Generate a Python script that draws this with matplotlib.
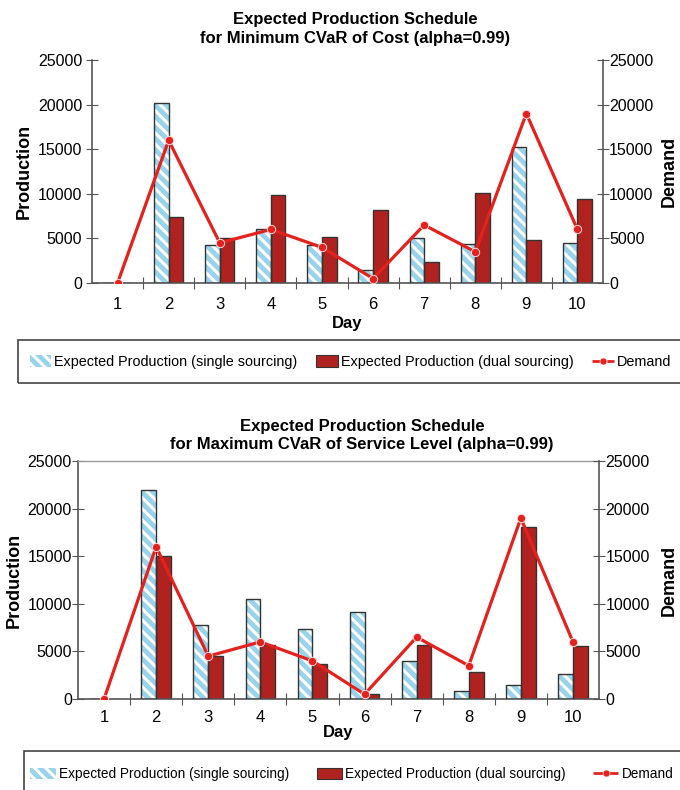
import matplotlib
matplotlib.use("Agg")
import matplotlib.pyplot as plt
import numpy as np
from matplotlib.patches import Rectangle, Patch
from matplotlib.lines import Line2D

plt.rcParams["font.family"] = ["Liberation Sans", "DejaVu Sans"]
plt.rcParams["hatch.linewidth"] = 2.2

days = [1, 2, 3, 4, 5, 6, 7, 8, 9, 10]

# Minimum CVaR of cost
cost_single = [0, 20200, 4300, 6100, 4300, 1500, 5100, 4400, 15200, 4500]
cost_dual   = [0, 7450, 5050, 9850, 5200, 8200, 2400, 10100, 4850, 9400]
cost_demand = [0, 16000, 4500, 6000, 4000, 500, 6500, 3500, 19000, 6000]

# Maximum CVaR of service level
serv_single = [0, 22000, 7800, 10550, 7350, 9150, 4000, 870, 1500, 2600]
serv_dual   = [0, 15000, 4500, 5700, 3700, 500, 5700, 2800, 18100, 5600]
serv_demand = [0, 16000, 4500, 6000, 4000, 500, 6500, 3500, 19000, 6000]

titles = [
    "Expected Production Schedule\nfor Minimum CVaR of Cost (alpha=0.99)",
    "Expected Production Schedule\nfor Maximum CVaR of Service Level (alpha=0.99)",
]
yticks = [0, 5000, 10000, 15000, 20000, 25000]
legend_labels = [
    "Expected Production (single sourcing)",
    "Expected Production (dual sourcing)",
    "Demand",
]

SINGLE_FACE = "#97d3ea"
DUAL_FACE   = "#b0221f"
LINE_COLOR  = "#e5211d"
EDGE        = "#333333"
SPINE       = "#555555"
W = 0.285
W_PX, H_PX = 680, 790


def fig_rect(l, t, r, b):
    return [l / W_PX, 1 - b / H_PX, (r - l) / W_PX, (b - t) / H_PX]


def draw_panel(fig, rect, single, dual, demand, title, top_spine, st):
    ax = fig.add_axes(rect)
    x = np.array(days, dtype=float)

    ax.bar(x - W / 2, single, W, color=SINGLE_FACE, edgecolor="white",
           hatch="\\\\\\", linewidth=0, zorder=2)
    ax.bar(x - W / 2, single, W, fill=False, edgecolor=EDGE, linewidth=1.0, zorder=3)
    ax.bar(x + W / 2, dual, W, color=DUAL_FACE, edgecolor=EDGE, linewidth=1.0, zorder=2)

    ax.set_xlim(0.5, 10.5)
    ax.set_ylim(0, 25000)
    ax.set_xticks(np.arange(1.5, 10.5, 1.0))
    ax.set_xticklabels([])
    ax.set_xticks(x, minor=True)
    ax.set_xticklabels([str(d) for d in days], minor=True, fontsize=12)
    ax.tick_params(axis="x", which="major", direction="inout", length=8, color=SPINE)
    ax.tick_params(axis="x", which="minor", length=0, pad=st["xpad"])
    ax.set_yticks(yticks)
    ax.set_yticklabels([str(v) for v in yticks], fontsize=11.5)
    ax.tick_params(axis="y", direction="inout", length=8, color=SPINE, pad=st["ypad"])
    ax.set_xlabel("Day", fontsize=12, fontweight="bold", labelpad=st["daypad"])
    ax.set_ylabel("Production", fontsize=13, fontweight="bold", labelpad=3.5)

    for s in ["left", "bottom"]:
        ax.spines[s].set_color(SPINE)
        ax.spines[s].set_linewidth(1.2)
    ax.spines["right"].set_visible(False)
    if top_spine:
        ax.spines["top"].set_color("#999999")
        ax.spines["top"].set_linewidth(1.0)
    else:
        ax.spines["top"].set_visible(False)

    ax2 = ax.twinx()
    ax2.plot(x, demand, color=LINE_COLOR, linewidth=2.3, marker="o", markersize=6,
             markeredgecolor="#ffdddd", markeredgewidth=0.7, zorder=5)
    ax2.set_ylim(0, 25000)
    ax2.set_yticks(yticks)
    ax2.set_yticklabels([str(v) for v in yticks], fontsize=11.5)
    ax2.tick_params(axis="y", direction="inout", length=8, color=SPINE, pad=0.5)
    ax2.set_ylabel("Demand", fontsize=13, fontweight="bold", labelpad=st["dempad"])
    for s in ["left", "top", "bottom"]:
        ax2.spines[s].set_visible(False)
    ax2.spines["right"].set_color(SPINE)
    ax2.spines["right"].set_linewidth(1.2)

    ax.set_title(title, fontsize=12, fontweight="bold", pad=st["tpad"],
                 linespacing=1.3, x=st["tx"])
    return ax


def draw_legend(fig, top, bottom, left, anchor_x, ymid, size, colsp, hlen):
    box = Rectangle((left / W_PX, 1 - bottom / H_PX), 1.0, (bottom - top) / H_PX,
                    transform=fig.transFigure, fill=False, edgecolor="#444444",
                    linewidth=1.2, clip_on=False)
    fig.add_artist(box)
    handles = [
        Patch(facecolor=SINGLE_FACE, edgecolor="white", hatch="\\\\\\", linewidth=0),
        Patch(facecolor=DUAL_FACE, edgecolor=EDGE, linewidth=0.8),
        Line2D([], [], color=LINE_COLOR, linestyle="--", linewidth=2, marker="o",
               markersize=5, markeredgecolor="#ffdddd", markeredgewidth=0.5),
    ]
    fig.legend(handles, legend_labels, loc="center left",
               bbox_to_anchor=(anchor_x / W_PX, 1 - ymid / H_PX),
               ncol=3, frameon=False, fontsize=size, handlelength=hlen, handleheight=0.9,
               handletextpad=0.2, columnspacing=colsp, borderaxespad=0)


fig = plt.figure(figsize=(6.8, 7.9), dpi=100)

draw_panel(fig, fig_rect(92, 60, 603, 283), cost_single, cost_dual, cost_demand,
           titles[0], top_spine=False,
           st=dict(xpad=10, ypad=3, daypad=3, dempad=5, tpad=12.5, tx=0.515))
draw_legend(fig, 340, 383, 18, 24, 362, 10.4, 1.3, 1.5)

draw_panel(fig, fig_rect(78, 461, 599, 699), serv_single, serv_dual, serv_demand,
           titles[1], top_spine=True,
           st=dict(xpad=8, ypad=0.5, daypad=0, dempad=8, tpad=8.5, tx=0.545))
draw_legend(fig, 751, 800, 24, 25, 774, 9.8, 2.0, 1.9)

fig.savefig("out.png", dpi=100)
